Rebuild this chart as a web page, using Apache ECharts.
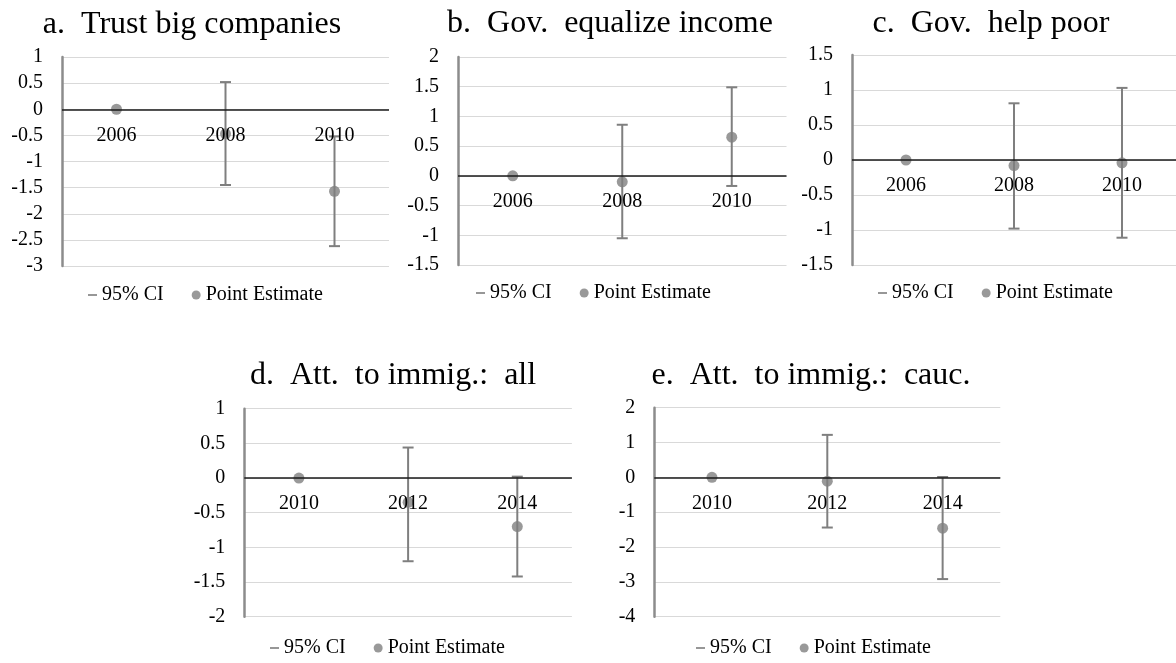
<!DOCTYPE html>
<html>
<head>
<meta charset="utf-8">
<script src="https://cdn.jsdelivr.net/npm/echarts@6/dist/echarts.min.js"></script>
<style>
  html, body { margin: 0; padding: 0; background: #fff; }
  #chart { width: 1176px; height: 663px; }
</style>
</head>
<body>
<div id="chart"></div>
<script>
// years on the x axis
const years06 = ['2006', '2008', '2010'];
const years10 = ['2010', '2012', '2014'];

// point estimates and 95% CI bounds (null = no interval, reference year)
const estA = [0, -0.47, -1.57];
const loA = [null, -1.45, -2.62];
const hiA = [null, 0.52, -0.52];

const estB = [0, -0.10, 0.65];
const loB = [null, -1.05, -0.17];
const hiB = [null, 0.86, 1.49];

const estC = [0, -0.08, -0.04];
const loC = [null, -0.98, -1.11];
const hiC = [null, 0.81, 1.03];

const estD = [0, -0.35, -0.70];
const loD = [null, -1.20, -1.42];
const hiD = [null, 0.44, 0.02];

const estE = [0, -0.11, -1.46];
const loE = [null, -1.44, -2.92];
const hiE = [null, 1.22, 0.01];

// y ticks: min, max, step
const ticksA = [-3, 1, 0.5];
const ticksB = [-1.5, 2, 0.5];
const ticksC = [-1.5, 1.5, 0.5];
const ticksD = [-2, 1, 0.5];
const ticksE = [-4, 2, 1];

const titles = [
  'a.  Trust big companies',
  'b.  Gov.  equalize income',
  'c.  Gov.  help poor',
  'd.  Att.  to immig.:  all',
  'e.  Att.  to immig.:  cauc.'
];

const panels = [
  { years: years06, est: estA, lo: loA, hi: hiA, ticks: ticksA },
  { years: years06, est: estB, lo: loB, hi: hiB, ticks: ticksB },
  { years: years06, est: estC, lo: loC, hi: hiC, ticks: ticksC },
  { years: years10, est: estD, lo: loD, hi: hiD, ticks: ticksD },
  { years: years10, est: estE, lo: loE, hi: hiE, ticks: ticksE }
];

// where each small chart sits on the page
const layout = [
  { grid: { left: 62, top: 57, width: 327, height: 209 }, tx: 192, ty: 9, lx: 88, ly: 285 },
  { grid: { left: 458, top: 57, width: 328.5, height: 208 }, tx: 610, ty: 8, lx: 476, ly: 283 },
  { grid: { left: 852, top: 55, width: 328.5, height: 210 }, tx: 991, ty: 8, lx: 878, ly: 283 },
  { grid: { left: 244.3, top: 408.7, width: 327.6, height: 208 }, tx: 393, ty: 360, lx: 270, ly: 638 },
  { grid: { left: 654.3, top: 407.7, width: 346, height: 209 }, tx: 811, ty: 360, lx: 696, ly: 638 }
];

const SERIF = 'Liberation Serif';
const GRAY = '#7f7f7f';

function renderCI(params, api) {
  const x = api.value(0);
  const top = api.coord([x, api.value(2)]);
  const bot = api.coord([x, api.value(1)]);
  const w = 5.5;
  const style = { stroke: GRAY, lineWidth: 2 };
  return {
    type: 'group',
    children: [
      { type: 'line', shape: { x1: top[0], y1: top[1], x2: bot[0], y2: bot[1] }, style: style },
      { type: 'line', shape: { x1: top[0] - w, y1: top[1], x2: top[0] + w, y2: top[1] }, style: style },
      { type: 'line', shape: { x1: bot[0] - w, y1: bot[1], x2: bot[0] + w, y2: bot[1] }, style: style }
    ]
  };
}

const option = {
  animation: false,
  backgroundColor: '#fff',
  title: [], grid: [], xAxis: [], yAxis: [], legend: [], series: []
};

panels.forEach((p, i) => {
  const L = layout[i];
  const [ymin, ymax, ystep] = p.ticks;
  // lift the category axis from the grid bottom up to y = 0
  const zeroLift = L.grid.height * (0 - ymin) / (ymax - ymin);
  option.title.push({
    text: titles[i],
    left: L.tx, top: L.ty, padding: 0, textAlign: 'center',
    textStyle: { fontFamily: SERIF, fontSize: 32, fontWeight: 'normal', color: '#000' }
  });
  option.grid.push(Object.assign({ containLabel: false }, L.grid));
  option.xAxis.push({
    type: 'category', gridIndex: i, data: p.years, z: 5,
    position: 'bottom', offset: -zeroLift,
    axisLine: { show: false, onZero: false },
    axisTick: { show: false },
    axisLabel: { margin: 16, fontFamily: SERIF, fontSize: 20, color: '#000' }
  });
  option.yAxis.push({
    type: 'value', gridIndex: i,
    min: ymin, max: ymax, interval: ystep,
    axisLine: { show: true, lineStyle: { color: '#8c8c8c', width: 2.5 } },
    axisTick: { show: false },
    splitLine: { lineStyle: { color: '#d9d9d9', width: 1 } },
    axisLabel: { margin: 19, fontFamily: SERIF, fontSize: 20, color: '#000' }
  });
  option.legend.push({
    left: L.lx, top: L.ly, padding: 0, width: 300,
    itemWidth: 9, itemHeight: 9, itemGap: 28,
    selectedMode: false,
    textStyle: { fontFamily: SERIF, fontSize: 20, color: '#000' },
    data: [
      { name: '95% CI', icon: 'path://M0,0H10V1.8H0Z' },
      { name: 'Point Estimate', icon: 'circle' }
    ]
  });
  const ci = [];
  p.lo.forEach((lo, k) => { if (lo !== null) ci.push([k, lo, p.hi[k]]); });
  option.series.push({
    name: '95% CI', type: 'custom', xAxisIndex: i, yAxisIndex: i, z: 2,
    itemStyle: { color: GRAY },
    renderItem: renderCI,
    encode: { x: 0, y: [1, 2] },
    data: ci,
    markLine: {
      silent: true, symbol: 'none', label: { show: false },
      lineStyle: { color: '#1a1a1a', width: 1.5, type: 'solid' },
      data: [{ yAxis: 0 }]
    }
  });
  option.series.push({
    name: 'Point Estimate', type: 'scatter', xAxisIndex: i, yAxisIndex: i, z: 3,
    symbolSize: 11,
    itemStyle: { color: GRAY },
    data: p.est
  });
});

const chart = echarts.init(document.getElementById('chart'));
chart.setOption(option);
</script>
</body>
</html>
